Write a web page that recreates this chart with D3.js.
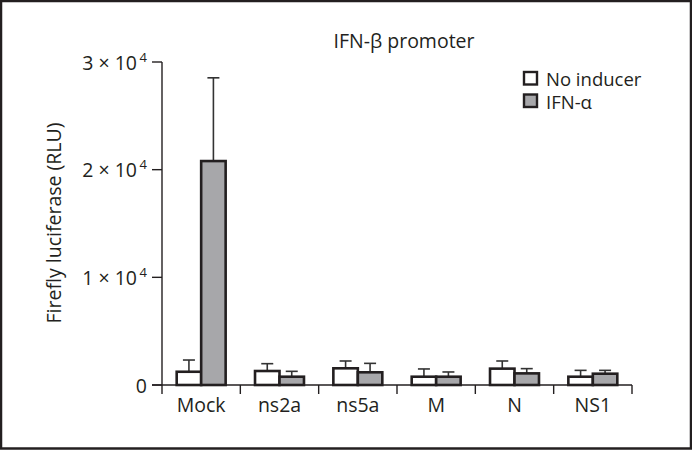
<!DOCTYPE html>
<html>
<head>
    <meta charset="utf-8">
    <title>IFN-beta promoter</title>
    <script type="text/javascript" src="https://d3js.org/d3.v7.min.js"></script>
    <style>
      body { margin: 0; background: #fff; }
      text { font-family: "Open Sans", sans-serif; fill: #231f20; }
    </style>
</head>
<body>
<script type="text/javascript">
    // values
    var categories = ["Mock", "ns2a", "ns5a", "M", "N", "NS1"]
    var series = ["No inducer", "IFN-\u03b1"]
    var noInducer = [1230, 1300, 1550, 770, 1520, 770]
    var noInducerErr = [2320, 1980, 2230, 1490, 2230, 1360]
    var ifnAlpha = [20800, 770, 1180, 770, 1080, 1050]
    var ifnAlphaErr = [28530, 1270, 2010, 1210, 1520, 1360]
    var yTicks = [0, 10000, 20000, 30000]
    var yTickLabels = ["0", "1 \u00d7 10", "2 \u00d7 10", "3 \u00d7 10"]

    var width = 692, height = 450
    var ink = "#231f20"
    var fills = ["#ffffff", "#a7a7aa"]
    var fs = 19.5

    var svg = d3.select("body").append("svg")
        .attr("width", width)
        .attr("height", height)

    // frame round the whole figure
    svg.append("rect")
        .attr("x", 1).attr("y", 1)
        .attr("width", width - 2).attr("height", height - 2.5)
        .attr("fill", "none").attr("stroke", ink).attr("stroke-width", 2.5)

    var y = d3.scaleLinear().domain([0, 30000]).range([385, 62])
    var x = d3.scaleBand().domain(categories).range([162, 632])
    var xs = d3.scaleBand().domain(series).range([0, x.bandwidth()]).paddingOuter(0.6)

    // y axis
    var yAxis = svg.append("g").attr("transform", "translate(162,0)")
    yAxis.append("line").attr("x1", 0).attr("x2", 0)
        .attr("y1", y(30000)).attr("y2", y(0))
        .attr("stroke", ink).attr("stroke-width", 1.4)
    yTicks.forEach(function(t, i) {
        yAxis.append("line").attr("x1", -10).attr("x2", 0)
            .attr("y1", y(t)).attr("y2", y(t))
            .attr("stroke", ink).attr("stroke-width", 1.4)
        yAxis.append("text")
            .attr("x", t == 0 ? -15 : -25).attr("y", y(t) + 7.5)
            .attr("text-anchor", "end")
            .attr("font-size", fs)
            .text(yTickLabels[i])
        if (t != 0) {
            yAxis.append("text")
                .attr("x", -15).attr("y", y(t) - 0.5)
                .attr("text-anchor", "end")
                .attr("font-size", 13)
                .text("4")
        }
    })

    // x axis
    var xAxis = svg.append("g").attr("transform", "translate(0," + y(0) + ")")
    xAxis.append("line").attr("x1", 152).attr("x2", 632)
        .attr("y1", 0).attr("y2", 0)
        .attr("stroke", ink).attr("stroke-width", 1.4)
    var bounds = categories.map(function(c) { return x(c) }).concat([x.range()[1]])
    xAxis.selectAll(".tk").data(bounds).enter().append("line")
        .attr("x1", function(d) { return d }).attr("x2", function(d) { return d })
        .attr("y1", 0).attr("y2", 9)
        .attr("stroke", ink).attr("stroke-width", 1.4)
    xAxis.selectAll(".lab").data(categories).enter().append("text")
        .attr("x", function(d) { return x(d) + x.bandwidth() / 2 })
        .attr("y", 27)
        .attr("text-anchor", "middle")
        .attr("font-size", fs)
        .text(function(d) { return d })

    // bars + error bars
    var sets = [[noInducer, noInducerErr], [ifnAlpha, ifnAlphaErr]]
    sets.forEach(function(s, si) {
        var g = svg.append("g")
        categories.forEach(function(c, i) {
            var bx = x(c) + xs(series[si])
            var cx = bx + xs.bandwidth() / 2
            g.append("line")
                .attr("x1", cx).attr("x2", cx)
                .attr("y1", y(s[0][i])).attr("y2", y(s[1][i]))
                .attr("stroke", "#333").attr("stroke-width", 1.6)
            g.append("line")
                .attr("x1", cx - 6).attr("x2", cx + 6)
                .attr("y1", y(s[1][i])).attr("y2", y(s[1][i]))
                .attr("stroke", "#333").attr("stroke-width", 1.6)
            g.append("rect")
                .attr("x", bx).attr("y", y(s[0][i]))
                .attr("width", xs.bandwidth())
                .attr("height", y(0) - y(s[0][i]))
                .attr("fill", fills[si])
                .attr("stroke", ink).attr("stroke-width", 2.6)
        })
    })

    // title
    svg.append("text").attr("x", 404).attr("y", 48)
        .attr("text-anchor", "middle").attr("font-size", fs)
        .text("IFN-\u03b2 promoter")

    // y axis title
    svg.append("text")
        .attr("transform", "translate(61,223) rotate(-90)")
        .attr("text-anchor", "middle").attr("font-size", fs)
        .text("Firefly luciferase (RLU)")

    // legend
    var legend = svg.append("g").attr("transform", "translate(524,72)")
    series.forEach(function(s, i) {
        legend.append("rect")
            .attr("x", 0).attr("y", i * 22.5)
            .attr("width", 13).attr("height", 12.5)
            .attr("fill", fills[i]).attr("stroke", ink).attr("stroke-width", 2.4)
        legend.append("text")
            .attr("x", 22).attr("y", i * 23 + 13.5)
            .attr("font-size", 18.5)
            .text(s)
    })
</script>
</body>
</html>
